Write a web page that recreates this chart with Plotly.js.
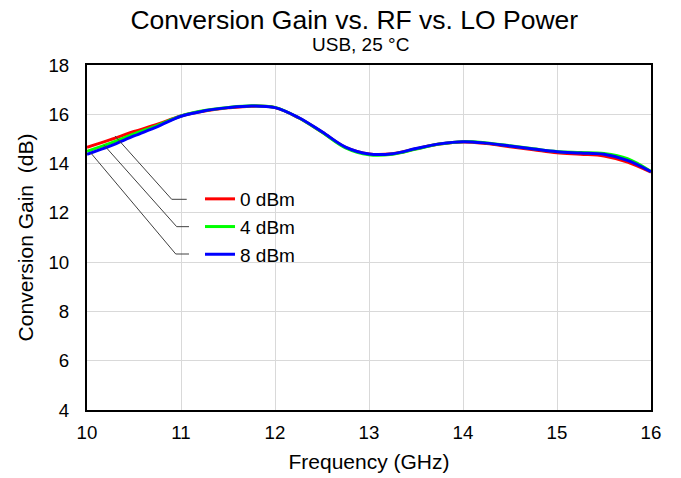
<!DOCTYPE html>
<html><head><meta charset="utf-8">
<script src="https://cdn.plot.ly/plotly-3.0.1.min.js"></script>
<style>html,body{margin:0;padding:0;background:#fff}#chart{width:681px;height:478px}</style>
</head><body><div id="chart"></div>
<script>
const freqGHz = [10, 10.25, 10.5, 10.75, 11, 11.25, 11.5, 11.75, 12, 12.25, 12.5, 12.75, 13, 13.25, 13.5, 13.75, 14, 14.25, 14.5, 14.75, 15, 15.25, 15.5, 15.75, 16];
const gain0dBm = [14.66, 14.97, 15.3, 15.6, 15.93, 16.13, 16.26, 16.33, 16.27, 15.86, 15.28, 14.66, 14.39, 14.4, 14.6, 14.79, 14.88, 14.81, 14.68, 14.56, 14.44, 14.38, 14.31, 14.06, 13.65];
const gain4dBm = [14.5, 14.83, 15.2, 15.55, 15.93, 16.15, 16.28, 16.35, 16.28, 15.86, 15.27, 14.64, 14.36, 14.38, 14.59, 14.79, 14.89, 14.84, 14.72, 14.6, 14.49, 14.45, 14.41, 14.2, 13.68];
const gain8dBm = [14.38, 14.72, 15.12, 15.5, 15.92, 16.14, 16.27, 16.34, 16.27, 15.87, 15.29, 14.67, 14.39, 14.4, 14.61, 14.8, 14.89, 14.83, 14.71, 14.59, 14.48, 14.43, 14.38, 14.13, 13.67];
const seriesNames = ['0 dBm', '4 dBm', '8 dBm'];
const seriesColors = ['#ff0000', '#00ff00', '#0000ff'];
const seriesValues = [gain0dBm, gain4dBm, gain8dBm];
// leader line anchor points (data coords): curve point, elbow, end
const leaders = [
  [[10.298, 15.12], [10.901, 12.55], [11.061, 12.55]],
  [[10.181, 14.75], [10.954, 11.44], [11.085, 11.44]],
  [[10.043, 14.42], [10.944, 10.33], [11.085, 10.33]]
];
const FONT = 'Liberation Sans, Arial, sans-serif';
const traces = seriesValues.map((v, i) => ({
  x: freqGHz, y: v, type: 'scatter', mode: 'lines', name: seriesNames[i],
  line: {color: seriesColors[i], width: 3, shape: 'spline', smoothing: 1}
}));
const shapes = leaders.map(p => ({
  type: 'path', xref: 'x', yref: 'y', layer: 'above',
  path: 'M' + p[0][0] + ',' + p[0][1] + ' L' + p[1][0] + ',' + p[1][1] + ' L' + p[2][0] + ',' + p[2][1],
  line: {color: '#404040', width: 1}
}));
const layout = {
  width: 681, height: 478,
  margin: {l: 87, r: 30, t: 65, b: 68},
  paper_bgcolor: '#fff', plot_bgcolor: '#fff',
  font: {family: FONT, color: '#000', size: 18.7},
  title: {text: 'Conversion Gain vs. RF vs. LO Power', font: {family: FONT, size: 26.5, color: '#000'},
    xref: 'paper', x: 0.474, xanchor: 'center', yref: 'container', y: 1 - 20 / 478, yanchor: 'middle'},
  annotations: [{text: 'USB, 25 °C', xref: 'paper', yref: 'paper', x: 0.485, y: 1 + 8 / 345,
    xanchor: 'center', yanchor: 'bottom', showarrow: false, font: {family: FONT, size: 19, color: '#000'}}],
  xaxis: {range: [10, 16], dtick: 1, tick0: 10, showgrid: true, gridcolor: '#d9d9d9', gridwidth: 1,
    showline: true, linecolor: '#000', linewidth: 2, mirror: true, ticks: '', zeroline: false,
    tickfont: {size: 18.7}, ticklabelstandoff: 5,
    title: {text: 'Frequency (GHz)', font: {size: 21}, standoff: 12}},
  yaxis: {range: [4, 18], dtick: 2, tick0: 4, showgrid: true, gridcolor: '#d9d9d9', gridwidth: 1,
    showline: true, linecolor: '#000', linewidth: 2, mirror: true, ticks: '', zeroline: false,
    tickfont: {size: 18.7}, ticklabelstandoff: 12,
    title: {text: 'Conversion Gain  (dB)', font: {size: 21}, standoff: 9}},
  showlegend: true,
  legend: {x: (200 - 87) / 564, y: (410 - 180) / 345, xanchor: 'left', yanchor: 'top',
    bgcolor: 'rgba(0,0,0,0)', borderwidth: 0, font: {size: 19, family: FONT}, tracegroupgap: 0},
  shapes: shapes
};
Plotly.newPlot('chart', traces, layout, {displayModeBar: false, staticPlot: true});
</script></body></html>
